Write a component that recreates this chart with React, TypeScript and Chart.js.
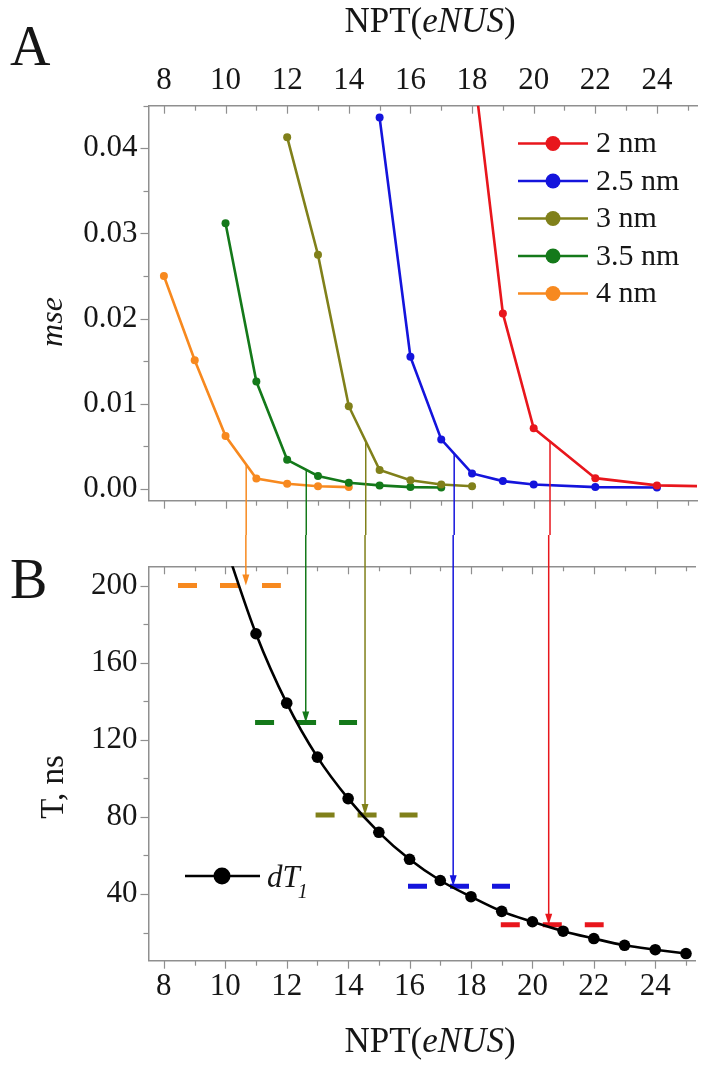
import React, { useEffect, useRef } from 'react';
import { Chart, registerables } from 'chart.js';

Chart.register(...registerables);

const FAMILY = '"Liberation Serif", "Times New Roman", serif';
const TEXT = '#161616';
const AXIS = '#8f8f8f';

// ---------- Panel A : mse vs NPT ----------
const seriesNames = ['2 nm', '2.5 nm', '3 nm', '3.5 nm', '4 nm'];
const seriesColors = ['#e8161c', '#1414dc', '#80801a', '#14791a', '#f7891f'];

const npt2 = [18, 19, 20, 22, 24, 26];
const mse2 = [0.051, 0.0206, 0.0071, 0.00125, 0.0004, 0.00027];
const npt25 = [15, 16, 17, 18, 19, 20, 22, 24];
const mse25 = [0.0436, 0.0155, 0.0058, 0.0018, 0.0009, 0.0005, 0.0002, 0.00015];
const npt3 = [12, 13, 14, 15, 16, 17, 18];
const mse3 = [0.0413, 0.0275, 0.0097, 0.0022, 0.001, 0.0005, 0.0003];
const npt35 = [10, 11, 12, 13, 14, 15, 16, 17];
const mse35 = [0.0312, 0.0126, 0.0034, 0.0015, 0.0007, 0.0004, 0.0002, 0.00015];
const npt4 = [8, 9, 10, 11, 12, 13, 14];
const mse4 = [0.025, 0.0151, 0.0062, 0.0012, 0.0006, 0.0003, 0.0002];

const seriesX = [npt2, npt25, npt3, npt35, npt4];
const seriesY = [mse2, mse25, mse3, mse35, mse4];

// ---------- Panel B : T vs NPT ----------
const nptT = [10, 11, 12, 13, 14, 15, 16, 17, 18, 19, 20, 21, 22, 23, 24, 25];
const dT1 = [221, 175, 139, 111, 89.5, 72, 58, 47, 38.6, 31, 25.6, 20.7, 16.9, 13.4, 11.1, 9.1];

// arrows from the mse curves down to the T thresholds (4, 3.5, 3, 2.5, 2 nm)
const arrowColors = ['#f7891f', '#14791a', '#80801a', '#1414dc', '#e8161c'];
const arrowNpt = [10.67, 12.62, 14.55, 17.42, 20.53];
const arrowMse = [0.0029, 0.0022, 0.0054, 0.0041, 0.0056];
const thresholdT = [200, 129, 81, 44, 24];
const dashFrom = [8.46, 10.97, 12.94, 15.95, 18.97];
const dashTo = [11.81, 14.29, 16.26, 19.27, 22.32];

const X_MIN = 7.5;
const X_MAX = 25.3;
const xTickLabels = ['8', '10', '12', '14', '16', '18', '20', '22', '24'];
const msePrecision = 2;

const font = (size: number, italic = false) => `${italic ? 'italic ' : ''}${size}px ${FAMILY}`;

const xMajor = (v: number) => Math.round(v) % 2 === 0;
const yAMajor = (v: number) => Math.round(v * 200) % 2 === 0;
const yBMajor = (v: number) => Math.round(v / 20) % 2 === 0;

function drawMixed(ctx: CanvasRenderingContext2D, parts: [string, boolean][], cx: number, baseline: number, size: number) {
  let total = 0;
  for (const [t, it] of parts) {
    ctx.font = font(size, it);
    total += ctx.measureText(t).width;
  }
  let x = cx - total / 2;
  ctx.textAlign = 'left';
  ctx.textBaseline = 'alphabetic';
  for (const [t, it] of parts) {
    ctx.font = font(size, it);
    ctx.fillText(t, x, baseline);
    x += ctx.measureText(t).width;
  }
}

function makeTickPlugin(majors: Record<string, (v: number) => boolean>) {
  return {
    id: 'customTicks',
    beforeDatasetsDraw(chart: any) {
      const ctx = chart.ctx as CanvasRenderingContext2D;
      ctx.save();
      ctx.strokeStyle = AXIS;
      ctx.lineWidth = 1.2;
      for (const id of Object.keys(majors)) {
        const s = chart.scales[id];
        if (!s) continue;
        for (const t of s.ticks) {
          const major = majors[id](t.value);
          const p = s.getPixelForValue(t.value);
          const len = major ? 8 : 5;
          ctx.beginPath();
          if (s.isHorizontal()) {
            const y0 = s.position === 'top' ? s.bottom : s.top;
            const xx = Math.round(p) + 0.5;
            ctx.moveTo(xx, y0);
            ctx.lineTo(xx, y0 + len);
          } else {
            const x0 = s.right;
            const yy = Math.round(p) + 0.5;
            ctx.moveTo(x0, yy);
            ctx.lineTo(x0 - len, yy);
          }
          ctx.stroke();
        }
      }
      ctx.restore();
    },
  };
}

const tickFont = { family: FAMILY, size: 31 };
const noGrid = { display: false, drawTicks: false };
const border = { display: true, color: AXIS, width: 1.5 };

function xScale(position: 'top' | 'bottom', showLabels: boolean, height: number, padding: number) {
  return {
    type: 'linear',
    position,
    min: X_MIN,
    max: X_MAX,
    grid: noGrid,
    border,
    ticks: {
      display: showLabels,
      stepSize: 1,
      includeBounds: false,
      autoSkip: false,
      maxRotation: 0,
      minRotation: 0,
      padding,
      color: TEXT,
      font: tickFont,
      callback: (v: number) => (xMajor(v) && xTickLabels.includes(String(Math.round(v))) ? String(Math.round(v)) : ''),
    },
    afterFit: (s: any) => {
      s.height = height;
    },
  };
}

export default function App() {
  const refA = useRef<HTMLCanvasElement>(null);
  const refB = useRef<HTMLCanvasElement>(null);

  useEffect(() => {
    // ----- Chart A -----
    const datasetsA = seriesNames.map((name, i) => ({
      label: name,
      data: seriesX[i].map((x, j) => ({ x, y: seriesY[i][j] })),
      borderColor: seriesColors[i],
      backgroundColor: seriesColors[i],
      pointBackgroundColor: seriesColors[i],
      pointBorderWidth: 0,
      pointRadius: 4,
      borderWidth: 2.6,
      tension: 0,
      xAxisID: 'x',
      yAxisID: 'y',
    }));

    const annotA = {
      id: 'annotA',
      afterDatasetsDraw(chart: any) {
        const ctx = chart.ctx as CanvasRenderingContext2D;
        const xs = chart.scales.x;
        const ys = chart.scales.y;
        ctx.save();
        ctx.lineWidth = 1.5;
        arrowNpt.forEach((n, i) => {
          const x = xs.getPixelForValue(n);
          const y0 = ys.getPixelForValue(arrowMse[i]);
          ctx.strokeStyle = arrowColors[i];
          ctx.beginPath();
          ctx.moveTo(x, y0);
          ctx.lineTo(x, chart.height + 4);
          ctx.stroke();
        });
        ctx.restore();
      },
      afterDraw(chart: any) {
        const ctx = chart.ctx as CanvasRenderingContext2D;
        ctx.save();
        ctx.fillStyle = TEXT;
        ctx.font = font(56);
        ctx.textAlign = 'left';
        ctx.textBaseline = 'alphabetic';
        ctx.fillText('A', 10, 65);
        drawMixed(ctx, [['NPT(', false], ['eNUS', true], [')', false]], 430, 32, 35);
        ctx.save();
        ctx.translate(62, 322);
        ctx.rotate(-Math.PI / 2);
        ctx.font = font(32, true);
        ctx.textAlign = 'center';
        ctx.textBaseline = 'alphabetic';
        ctx.fillText('mse', 0, 0);
        ctx.restore();
        seriesNames.forEach((name, i) => {
          const y = 143.5 + i * 37.5;
          ctx.strokeStyle = seriesColors[i];
          ctx.lineWidth = 2.5;
          ctx.beginPath();
          ctx.moveTo(518, y);
          ctx.lineTo(588, y);
          ctx.stroke();
          ctx.fillStyle = seriesColors[i];
          ctx.beginPath();
          ctx.arc(553, y, 7.5, 0, Math.PI * 2);
          ctx.fill();
          ctx.fillStyle = TEXT;
          ctx.font = font(30);
          ctx.textAlign = 'left';
          ctx.textBaseline = 'middle';
          ctx.fillText(name, 596, y + 1);
        });
        ctx.restore();
      },
    };

    const chartA = new Chart(refA.current as HTMLCanvasElement, {
      type: 'line',
      data: { datasets: datasetsA as any },
      options: {
        responsive: false,
        animation: false,
        devicePixelRatio: 1,
        layout: { padding: 0 },
        plugins: { legend: { display: false }, tooltip: { enabled: false } },
        scales: {
          x: xScale('bottom', false, 34.3, 0) as any,
          x2: xScale('top', true, 105.7, 6) as any,
          y: {
            type: 'linear',
            position: 'left',
            min: -0.0014,
            max: 0.045,
            grid: noGrid,
            border,
            ticks: {
              stepSize: 0.005,
              includeBounds: false,
              autoSkip: false,
              padding: 11,
              color: TEXT,
              font: tickFont,
              callback: (v: number) => (yAMajor(v) ? Math.abs(v).toFixed(msePrecision) : ''),
            },
            afterFit: (s: any) => {
              s.width = 148.5;
            },
          } as any,
        },
      },
      plugins: [makeTickPlugin({ x: xMajor, x2: xMajor, y: yAMajor }), annotA],
    });

    // ----- Chart B -----
    const datasetsB: any[] = [
      {
        label: 'dT1',
        data: nptT.map((x, j) => ({ x, y: dT1[j] })),
        borderColor: '#000000',
        backgroundColor: '#000000',
        pointBackgroundColor: '#000000',
        pointBorderWidth: 0,
        pointRadius: 5.8,
        borderWidth: 2.6,
        tension: 0.4,
        cubicInterpolationMode: 'monotone',
      },
      ...thresholdT.map((t, i) => ({
        label: 'threshold ' + seriesNames[4 - i],
        data: [
          { x: dashFrom[i], y: t },
          { x: dashTo[i], y: t },
        ],
        borderColor: arrowColors[i],
        borderWidth: 5,
        borderDash: [19, 23],
        borderCapStyle: 'butt',
        pointRadius: 0,
        tension: 0,
      })),
    ];

    const annotB = {
      id: 'annotB',
      afterDatasetsDraw(chart: any) {
        const ctx = chart.ctx as CanvasRenderingContext2D;
        const xs = chart.scales.x;
        const ys = chart.scales.y;
        ctx.save();
        arrowNpt.forEach((n, i) => {
          const x = xs.getPixelForValue(n);
          const yt = ys.getPixelForValue(thresholdT[i]);
          ctx.strokeStyle = arrowColors[i];
          ctx.fillStyle = arrowColors[i];
          ctx.lineWidth = 1.5;
          ctx.beginPath();
          ctx.moveTo(x, -4);
          ctx.lineTo(x, yt - 8);
          ctx.stroke();
          ctx.beginPath();
          ctx.moveTo(x, yt);
          ctx.lineTo(x - 3.5, yt - 11);
          ctx.lineTo(x + 3.5, yt - 11);
          ctx.closePath();
          ctx.fill();
        });
        ctx.restore();
      },
      afterDraw(chart: any) {
        const ctx = chart.ctx as CanvasRenderingContext2D;
        ctx.save();
        ctx.fillStyle = TEXT;
        ctx.font = font(56);
        ctx.textAlign = 'left';
        ctx.textBaseline = 'alphabetic';
        ctx.fillText('B', 10, 63);
        drawMixed(ctx, [['NPT(', false], ['eNUS', true], [')', false]], 430, 517, 35);
        ctx.save();
        ctx.translate(63, 252);
        ctx.rotate(-Math.PI / 2);
        ctx.font = font(33);
        ctx.textAlign = 'center';
        ctx.textBaseline = 'alphabetic';
        ctx.fillText('T, ns', 0, 0);
        ctx.restore();
        const ly = 341;
        ctx.strokeStyle = '#000';
        ctx.lineWidth = 2.6;
        ctx.beginPath();
        ctx.moveTo(185, ly);
        ctx.lineTo(260, ly);
        ctx.stroke();
        ctx.fillStyle = '#000';
        ctx.beginPath();
        ctx.arc(222, ly, 8.5, 0, Math.PI * 2);
        ctx.fill();
        ctx.fillStyle = TEXT;
        ctx.font = font(31, true);
        ctx.textAlign = 'left';
        ctx.fillText('dT', 267, ly + 11);
        const w = ctx.measureText('dT').width;
        ctx.font = font(20, true);
        ctx.fillText('1', 267 + w - 2, ly + 22);
        ctx.restore();
      },
    };

    const chartB = new Chart(refB.current as HTMLCanvasElement, {
      type: 'line',
      data: { datasets: datasetsB },
      options: {
        responsive: false,
        animation: false,
        devicePixelRatio: 1,
        layout: { padding: 0 },
        plugins: { legend: { display: false }, tooltip: { enabled: false } },
        scales: {
          x: xScale('bottom', true, 107.3, 8) as any,
          x2: xScale('top', false, 31.3, 0) as any,
          y: {
            type: 'linear',
            position: 'left',
            min: 5.4,
            max: 210,
            grid: noGrid,
            border,
            ticks: {
              stepSize: 20,
              includeBounds: false,
              autoSkip: false,
              padding: 11,
              color: TEXT,
              font: tickFont,
              callback: (v: number) => (yBMajor(v) ? String(Math.round(v)) : ''),
            },
            afterFit: (s: any) => {
              s.width = 148.5;
            },
          } as any,
        },
      },
      plugins: [makeTickPlugin({ x: xMajor, x2: xMajor, y: yBMajor }), annotB],
    });

    return () => {
      chartA.destroy();
      chartB.destroy();
    };
  }, []);

  return (
    <div style={{ position: 'absolute', left: 0, top: 0, width: 701, height: 1068, background: '#ffffff' }}>
      <canvas ref={refA} width={701} height={535} style={{ display: 'block', width: 701, height: 535 }} />
      <canvas ref={refB} width={701} height={533} style={{ display: 'block', width: 701, height: 533 }} />
    </div>
  );
}
